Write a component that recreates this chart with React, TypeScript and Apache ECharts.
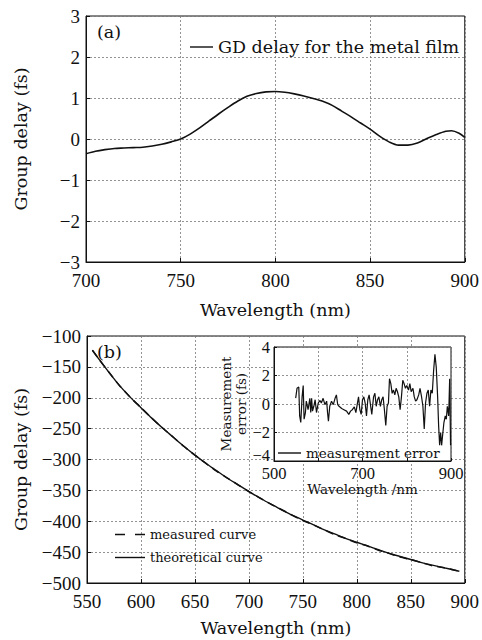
import React, { useEffect, useRef } from "react";
import * as echarts from "echarts";

// Panel (a): GD delay for the metal film
const gdWavelength = [700, 705, 710, 715, 720, 725, 730, 735, 740, 745, 750, 755, 760, 765, 770, 775, 780, 785, 790, 795, 800, 805, 810, 815, 820, 825, 830, 835, 840, 845, 850, 855, 860, 865, 870, 875, 880, 885, 890, 893, 897, 900];
const gdDelay = [-0.36, -0.3, -0.26, -0.23, -0.22, -0.21, -0.2, -0.17, -0.13, -0.07, 0.0, 0.12, 0.27, 0.44, 0.61, 0.77, 0.92, 1.04, 1.11, 1.15, 1.16, 1.14, 1.1, 1.05, 0.99, 0.92, 0.82, 0.68, 0.54, 0.39, 0.24, 0.07, -0.07, -0.15, -0.15, -0.1, 0.01, 0.11, 0.19, 0.2, 0.14, 0.04];

// Panel (b): measured vs theoretical group delay
const bWavelength = [555, 560, 570, 580, 590, 600, 610, 620, 630, 640, 650, 660, 670, 680, 690, 700, 710, 720, 730, 740, 750, 760, 770, 780, 790, 800, 810, 820, 830, 840, 850, 860, 870, 880, 890, 895];
const theoretical = [-123, -135, -158, -180, -199, -216, -233, -249, -264, -279, -293, -306, -318, -330, -341, -352, -362, -372, -381, -390, -398, -406, -414, -421, -428, -434, -440, -446, -452, -457, -462, -467, -471, -475, -479, -481];
const measured = [-123, -135, -158, -180, -199, -216, -233, -249, -264, -279, -293, -306, -319, -330, -341, -352, -362, -372, -381, -390, -399, -406, -414, -422, -428, -435, -440, -447, -452, -458, -462, -467, -472, -475, -479, -481];

// Inset: measurement error
const errWavelength = [549, 552, 556, 558, 560.5, 563.5, 566, 568, 571, 573, 577, 581, 583, 585, 587, 590, 593, 596, 600, 604, 607, 611, 615, 619, 621, 623, 626, 630, 634, 638, 641, 644, 647, 653, 658, 664, 669, 673, 677, 681.5, 685, 688, 691, 694, 697, 700, 703, 706, 709, 712, 715, 718, 721, 725, 728, 731, 734, 737, 740.5, 743.5, 746.5, 749.5, 752.6, 755.6, 758.6, 761, 764, 767, 770, 773, 776, 779, 782, 785, 788, 791, 794, 797, 800, 804, 807, 810, 814, 817, 820, 823, 827, 830, 833.5, 836.5, 839.5, 842.5, 845.6, 848.6, 851.6, 854.6, 857.7, 860.7, 863.7, 866.7, 869.8, 872, 874.3, 876.6, 878.8, 881, 884, 887, 889.4, 891.7, 894.7, 897, 899];
const errValue = [0.41, 1.1, 1.2, -0.84, -1.3, 0.5, 1.3, -1.07, -0.6, 0.2, -0.4, 0.4, -0.6, 0.4, -0.5, -0.16, 0.3, -0.6, 0.07, 0.25, 0.07, 0.4, -0.05, 0.2, -0.6, -1.2, -0.16, 0.2, -0.05, 0.4, 0.64, -0.05, -0.16, -0.32, -0.4, -0.5, -0.73, -0.5, -0.4, -0.2, -0.6, -0.05, 0.5, -0.4, -0.73, 0.3, 0.5, 0.07, -0.84, 0.3, 0.64, -0.05, -0.73, 0.5, 0.75, -0.16, 0.3, 0.5, -0.16, 0.3, 0.5, -0.4, -1.5, -0.16, 0.07, 1.77, 1.43, 0.75, 0.98, 0.64, 1.1, 0.86, 0.5, -0.4, 0.5, 1.66, 1.43, 1.1, 1.3, 0.98, 1.43, 0.86, 1.1, 0.5, 0.2, 0.3, 0.64, 1.1, 0.5, -0.16, -1.75, 0.07, 0.75, 0.98, -0.16, 0.98, 0.75, 2.34, 3.48, 2.57, 0.5, -1.5, -2.9, -2.0, -2.9, -2.2, -1.3, -0.84, -1.07, -0.16, -0.84, 1.77, -2.9];

const serif = "'DejaVu Serif', serif";
const numFont = "'Liberation Serif', serif";
const ink = "#111";

const minus = (v: number) => String(v).replace("-", "\u2212");
const solidIcon = "path://M0,0H30V1.4H0Z";
const dashIcon = "path://M0,0H10V1.4H0Z M20,0H30V1.4H20Z";

export default function App() {
  const ref = useRef<HTMLDivElement>(null);
  useEffect(() => {
    if (!ref.current) return;
    const chart = echarts.init(ref.current, null, { renderer: "svg" });

    const split = { show: true, lineStyle: { color: "#777", type: [2, 2] as any, width: 0.8 } };
    const axisLine = { show: true, onZero: false, lineStyle: { color: ink, width: 1 } };
    const tick = { show: true, inside: true, length: 4, lineStyle: { color: ink } };
    const nameStyle = { fontFamily: serif, fontSize: 17.5, color: ink };
    const tickLabel = { fontFamily: numFont, fontSize: 19, color: ink, formatter: minus };

    const option: any = {
      animation: false,
      backgroundColor: "#fff",
      grid: [
        { left: 86, top: 16, width: 379, height: 246, show: true, borderColor: ink, borderWidth: 1, backgroundColor: "transparent" },
        { left: 87, top: 336, width: 378, height: 247, show: true, borderColor: ink, borderWidth: 1, backgroundColor: "transparent" },
        { left: 274, top: 347, width: 177, height: 114, show: false },
      ],
      xAxis: [
        {
          gridIndex: 0, type: "value", min: 700, max: 900, interval: 50,
          name: "Wavelength (nm)", nameLocation: "middle", nameGap: 39, nameTextStyle: nameStyle,
          axisLine, axisTick: tick, splitLine: split,
          axisLabel: { ...tickLabel, margin: 9 },
        },
        {
          gridIndex: 1, type: "value", min: 550, max: 900, interval: 50,
          name: "Wavelength (nm)", nameLocation: "middle", nameGap: 36, nameTextStyle: nameStyle,
          axisLine, axisTick: tick, splitLine: split,
          axisLabel: { ...tickLabel, margin: 9 },
        },
        {
          gridIndex: 2, type: "value", min: 500, max: 900, interval: 100, z: 10,
          name: "Wavelength /nm", nameLocation: "middle", nameGap: 21,
          nameTextStyle: { fontFamily: serif, fontSize: 13.5, color: ink },
          axisLine, axisTick: { ...tick, length: 3 }, splitLine: split,
          axisLabel: {
            fontFamily: numFont, fontSize: 16.5, color: ink, margin: 5, lineHeight: 14,
            formatter: (v: number) => (v === 500 || v === 700 || v === 900 ? String(v) : ""),
          },
        },
      ],
      yAxis: [
        {
          gridIndex: 0, type: "value", min: -3, max: 3, interval: 1,
          name: "Group delay (fs)", nameLocation: "middle", nameGap: 56, nameTextStyle: nameStyle,
          axisLine, axisTick: tick, splitLine: split,
          axisLabel: { ...tickLabel, margin: 6 },
        },
        {
          gridIndex: 1, type: "value", min: -500, max: -100, interval: 50,
          name: "Group delay (fs)", nameLocation: "middle", nameGap: 57, nameTextStyle: nameStyle,
          axisLine, axisTick: tick, splitLine: split,
          axisLabel: { ...tickLabel, margin: 6 },
        },
        {
          gridIndex: 2, type: "value", min: -4, max: 4, interval: 2, z: 10,
          name: "Measurement\nerror (fs)", nameLocation: "middle", nameGap: 14,
          nameTextStyle: { fontFamily: serif, fontSize: 13.5, color: ink, lineHeight: 15 },
          axisLine, axisTick: { ...tick, length: 3 }, splitLine: split,
          axisLabel: {
            fontFamily: numFont, fontSize: 16.5, color: ink, margin: 4, lineHeight: 12, formatter: minus,
            verticalAlignMinLabel: "bottom",
          },
        },
      ],
      legend: [
        {
          left: 185, top: 33, itemWidth: 23, itemHeight: 1.4, itemGap: 0, symbolKeepAspect: false,
          data: [{ name: "GD delay for the metal film", icon: solidIcon }],
          textStyle: { fontFamily: serif, fontSize: 17.5, color: ink },
        },
        {
          left: 110, top: 522, orient: "vertical", itemWidth: 30, itemHeight: 1.4, itemGap: 8, symbolKeepAspect: false,
          data: [
            { name: "measured curve", icon: dashIcon },
            { name: "theoretical curve", icon: solidIcon },
          ],
          textStyle: { fontFamily: serif, fontSize: 13, color: ink, lineHeight: 15 },
        },
        {
          left: 273, top: 441, itemWidth: 23, itemHeight: 1.4, itemGap: 0, z: 12, symbolKeepAspect: false,
          data: [{ name: "measurement error", icon: solidIcon }],
          textStyle: { fontFamily: serif, fontSize: 13.5, color: ink },
        },
      ],
      graphic: [
        {
          type: "rect", z: 5,
          shape: { x: 274, y: 347, width: 177, height: 114 },
          style: { fill: "#fff", stroke: ink, lineWidth: 1 },
        },
        {
          type: "text", left: 97, top: 23, z: 20,
          style: { text: "(a)", font: `17.5px 'DejaVu Serif'`, fill: ink },
        },
        {
          type: "text", left: 97, top: 343, z: 20,
          style: { text: "(b)", font: `17.5px 'DejaVu Serif'`, fill: ink },
        },
      ],
      series: [
        {
          name: "GD delay for the metal film", type: "line", xAxisIndex: 0, yAxisIndex: 0,
          data: gdWavelength.map((w, i) => [w, gdDelay[i]]),
          symbol: "none", smooth: 0.3, lineStyle: { color: ink, width: 1.6 }, itemStyle: { color: ink },
        },
        {
          name: "measured curve", type: "line", xAxisIndex: 1, yAxisIndex: 1,
          data: bWavelength.map((w, i) => [w, measured[i]]),
          symbol: "none", smooth: 0.3, lineStyle: { color: ink, width: 1.5, type: [8, 5] }, itemStyle: { color: ink },
        },
        {
          name: "theoretical curve", type: "line", xAxisIndex: 1, yAxisIndex: 1,
          data: bWavelength.map((w, i) => [w, theoretical[i]]),
          symbol: "none", smooth: 0.3, lineStyle: { color: ink, width: 1.4 }, itemStyle: { color: ink },
        },
        {
          name: "measurement error", type: "line", xAxisIndex: 2, yAxisIndex: 2, z: 11,
          data: errWavelength.map((w, i) => [w, errValue[i]]),
          symbol: "none", lineStyle: { color: ink, width: 1.2 }, itemStyle: { color: ink },
        },
      ],
    };
    chart.setOption(option);
    return () => chart.dispose();
  }, []);
  return <div ref={ref} style={{ position: "fixed", left: 0, top: 0, width: 482, height: 640 }} />;
}
